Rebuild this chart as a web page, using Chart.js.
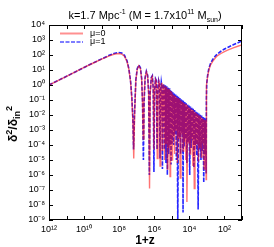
<!DOCTYPE html>
<html>
<head>
<meta charset="utf-8">
<script src="https://cdn.jsdelivr.net/npm/chart.js@4"></script>
<style>
  html, body { margin: 0; padding: 0; background: #fff; }
  #wrap { position: relative; width: 274px; height: 247px; font-family: "Liberation Sans", Arial, sans-serif; color: #000; }
  #chart { position: absolute; left: 0; top: 0; }
  .lbl { position: absolute; white-space: nowrap; line-height: 1; }
  .lbl sup, .lbl sub { font-size: 7px; line-height: 0; }
  #title { left: 145px; top: 15px; font-size: 11px; transform: translate(-50%, -50%); }
  #xlab { left: 145px; top: 240px; font-size: 12px; font-weight: bold; transform: translate(-50%, -50%); }
  #ylab { left: 13px; top: 124px; font-size: 12px; font-weight: bold; transform: translate(-50%, -50%) rotate(-90deg); }
  #ylab sup, #ylab sub { font-size: 9px; }
</style>
</head>
<body>
<div id="wrap">
  <canvas id="chart" width="274" height="247"></canvas>
  <div class="lbl" id="title">k=1.7 Mpc<sup>-1</sup> (M = 1.7x10<sup>11</sup> M<sub>sun</sub>)</div>
  <div class="lbl" id="ylab">&delta;<sup>2</sup>/&delta;<sub>in</sub><sup>2</sup></div>
  <div class="lbl" id="xlab">1+z</div>
</div>
<script>
// valores (log10 de 1+z y log10 de delta^2/delta_in^2)
const seriesNames = ["μ=0", "μ=1"];

const redLogZ = [
  12, 11, 10, 9.5, 9, 8.6, 8.3, 8.05, 7.85, 7.7, 7.55, 7.45, 7.35, 7.28, 7.22, 7.17,
  7.12, 7.05, 6.97, 6.88, 6.79, 6.72, 6.67, 6.63, 6.59, 6.53, 6.45, 6.38, 6.32, 6.27,
  6.23, 6.17, 6.11, 6.06, 6.02, 5.98, 5.93, 5.88, 5.83, 5.79, 5.74, 5.70, 5.67,
  5.63, 5.59, 5.56, 5.53, 5.50, 5.47, 5.44, 5.41, 5.385, 5.36, 5.33, 5.305, 5.28, 5.25,
  5.225, 5.20, 5.17, 5.15, 5.125, 5.10, 5.08, 5.06, 5.04, 5.02, 5.00, 4.98,
  4.96, 4.92, 4.88, 4.84, 4.80, 4.76, 4.72, 4.68, 4.64, 4.60, 4.56, 4.52, 4.48, 4.44,
  4.40, 4.36, 4.32, 4.28, 4.24, 4.20, 4.16, 4.14, 4.08, 4.04, 4.00, 3.96, 3.92, 3.88,
  3.84, 3.80, 3.76, 3.72, 3.68, 3.64, 3.60, 3.56, 3.52, 3.48, 3.44, 3.40, 3.36, 3.32,
  3.28, 3.24, 3.20, 3.16, 3.12, 3.08, 3.06, 3.045,
  3.035, 3.03, 3.01, 2.96, 2.89, 2.80, 2.67, 2.50, 2.39, 2.20, 2.00, 1.82, 1.50, 1.20, 1.00
];
const redLogD = [
  0, 0.58, 1.17, 1.45, 1.72, 1.93, 2.05, 2.1, 2.06, 1.92, 1.55, 1.05, 0.2, -0.9, -2.4, -4.9,
  -2.0, 0.3, 1.05, 1.28, 1.1, 0.4, -1.2, -3.6, -1.2, 0.45, 0.88, 0.62, -0.6, -6.9,
  -0.6, 0.45, 0.58, -0.3, -4.3, -0.4, 0.38, 0.25, -4.9, -0.4, 0.26, 0.05, -5.4,
  -0.5, 0.15, -0.2, -4.4, -0.5, 0.03, -0.25, -5.0, -0.6, -0.08, -3.9, -0.3, -0.15, -5.6,
  -0.45, -0.25, -4.2, -0.32, -0.33, -6.1, -0.4, -0.4, -3.8, -0.45, -0.46, -5.0,
  -0.58, -3.4, -0.66, -4.6, -0.74, -3.0, -0.81, -5.2, -0.89, -3.6, -0.96, -6.2, -1.04, -3.3,
  -1.12, -4.4, -1.19, -3.8, -1.27, -5.0, -1.34, -7.8, -1.42, -3.9, -1.50, -4.6, -1.57, -3.6,
  -1.65, -5.4, -1.72, -6.9, -1.80, -4.3, -1.88, -3.9, -1.95, -5.1, -2.03, -4.2, -2.10, -4.8,
  -2.18, -3.9, -2.26, -5.6, -2.33, -4.4, -2.38, -6.3,
  -3.0, -1.0, 0.0, 0.55, 1.0, 1.32, 1.58, 1.83, 1.96, 2.1, 2.22, 2.32, 2.48, 2.6, 2.68
];

const blueLogZ = [
  12, 11, 10, 9.5, 9, 8.6, 8.3, 8.05, 7.85, 7.7, 7.55, 7.45, 7.35, 7.28, 7.22, 7.18,
  7.13, 7.05, 6.97, 6.88, 6.79, 6.72, 6.67, 6.62, 6.58, 6.52, 6.45, 6.38, 6.32, 6.28,
  6.24, 6.17, 6.11, 6.06, 6.02, 5.98, 5.93, 5.88, 5.84, 5.80, 5.75, 5.71, 5.675,
  5.64, 5.60, 5.565, 5.535, 5.505, 5.475, 5.445, 5.415, 5.39, 5.365, 5.335, 5.31, 5.285, 5.255,
  5.23, 5.205, 5.175, 5.155, 5.13, 5.105, 5.085, 5.065, 5.045, 5.025, 5.005, 4.985,
  4.94, 4.90, 4.86, 4.82, 4.78, 4.74, 4.70, 4.66, 4.62, 4.58, 4.54, 4.50, 4.46, 4.42,
  4.38, 4.36, 4.34, 4.30, 4.26, 4.22, 4.18, 4.14, 4.10, 4.06, 4.02, 3.98, 3.94, 3.90,
  3.86, 3.82, 3.78, 3.74, 3.70, 3.66, 3.62, 3.58, 3.54, 3.50, 3.46, 3.42, 3.38, 3.34,
  3.30, 3.26, 3.22, 3.18, 3.14, 3.10, 3.065, 3.045,
  3.035, 3.03, 3.01, 2.96, 2.89, 2.80, 2.67, 2.50, 2.39, 2.20, 2.00, 1.82, 1.50, 1.20, 1.00
];
const blueLogD = [
  0, 0.58, 1.17, 1.46, 1.74, 1.96, 2.1, 2.17, 2.13, 1.98, 1.6, 1.1, 0.25, -0.8, -2.2, -4.3,
  -2.0, 0.35, 1.1, 1.33, 1.15, 0.45, -1.1, -5.0, -1.2, 0.5, 0.92, 0.66, -0.5, -6.0,
  -0.6, 0.5, 0.62, -0.2, -5.8, -0.35, 0.42, 0.3, -4.3, -0.4, 0.3, 0.1, -4.9,
  -0.45, 0.2, -0.1, -5.6, -0.45, 0.08, -0.15, -4.3, -0.5, -0.02, -5.2, -0.25, -0.08, -6.0,
  -0.4, -0.18, -4.6, -0.28, -0.27, -4.0, -0.35, -0.33, -5.3, -0.4, -0.38, -3.9,
  -0.48, -4.0, -0.56, -3.3, -0.63, -5.0, -0.71, -9.2, -0.79, -3.5, -0.86, -4.6, -0.94, -3.2,
  -1.02, -8.5, -1.07, -4.1, -1.13, -3.6, -1.21, -5.2, -1.28, -3.8, -1.36, -6.0, -1.44, -4.2,
  -1.51, -3.7, -1.59, -5.5, -1.66, -4.0, -1.74, -4.7, -1.81, -8.3, -1.89, -4.3, -1.96, -5.0,
  -2.04, -4.4, -2.12, -6.5, -2.19, -4.6, -2.25, -5.9,
  -3.0, -0.9, 0.1, 0.65, 1.1, 1.42, 1.7, 1.96, 2.08, 2.25, 2.4, 2.5, 2.68, 2.83, 2.95
];

// marcas de los ejes
const xTickVals = [1e1, 1e2, 1e3, 1e4, 1e5, 1e6, 1e7, 1e8, 1e9, 1e10, 1e11, 1e12];
const xTickLabels = ["", "10²", "", "10⁴", "", "10⁶", "", "10⁸", "", "10¹⁰", "", "10¹²"];
const yTickVals = [1e-9, 1e-8, 1e-7, 1e-6, 1e-5, 1e-4, 1e-3, 1e-2, 1e-1, 1e0, 1e1, 1e2, 1e3, 1e4];
const yTickLabels = ["10⁻⁹", "10⁻⁸", "10⁻⁷", "10⁻⁶", "10⁻⁵", "10⁻⁴", "10⁻³", "10⁻²", "10⁻¹", "10⁰", "10¹", "10²", "10³", "10⁴"];

function toPoints(lz, ld) {
  return lz.map((v, i) => ({ x: Math.pow(10, v), y: Math.pow(10, ld[i]) }));
}

// marco con marcas hacia adentro (estilo gnuplot)
const frameTicks = {
  id: "frameTicks",
  afterDatasetsDraw(chart) {
    const { ctx, chartArea: a, scales } = chart;
    ctx.save();
    ctx.strokeStyle = "#000";
    ctx.lineWidth = 1;
    ctx.strokeRect(a.left + 0.5, a.top + 0.5, a.width - 1, a.height - 1);
    ctx.beginPath();
    scales.x.ticks.forEach(t => {
      const px = Math.round(scales.x.getPixelForValue(t.value)) + 0.5;
      ctx.moveTo(px, a.bottom); ctx.lineTo(px, a.bottom - 4);
      ctx.moveTo(px, a.top); ctx.lineTo(px, a.top + 4);
    });
    scales.y.ticks.forEach(t => {
      const py = Math.round(scales.y.getPixelForValue(t.value)) + 0.5;
      ctx.moveTo(a.left, py); ctx.lineTo(a.left + 4, py);
      ctx.moveTo(a.right, py); ctx.lineTo(a.right - 4, py);
    });
    ctx.stroke();
    ctx.restore();
  }
};

// leyenda dentro del área, arriba a la izquierda
const insideLegend = {
  id: "insideLegend",
  afterDatasetsDraw(chart) {
    const { ctx, chartArea: a } = chart;
    chart.data.datasets.forEach((ds, i) => {
      const y = a.top + 8.5 + i * 8.5;
      ctx.save();
      ctx.strokeStyle = ds.legendColor;
      ctx.lineWidth = 2;
      ctx.setLineDash(ds.borderDash || []);
      ctx.beginPath();
      ctx.moveTo(a.left + 11, y);
      ctx.lineTo(a.left + 34, y);
      ctx.stroke();
      ctx.setLineDash([]);
      ctx.fillStyle = "#000";
      ctx.font = '9px "Liberation Sans"';
      ctx.textBaseline = "middle";
      ctx.fillText(ds.label, a.left + 41, y);
      ctx.restore();
    });
  }
};

new Chart(document.getElementById("chart"), {
  type: "line",
  data: {
    datasets: [
      {
        label: seriesNames[0],
        data: toPoints(redLogZ, redLogD),
        borderColor: "rgba(255,0,0,0.55)",
        legendColor: "rgba(255,70,70,0.6)",
        borderWidth: 1.4,
        pointRadius: 0,
        tension: 0
      },
      {
        label: seriesNames[1],
        data: toPoints(blueLogZ, blueLogD),
        borderColor: "rgba(0,0,255,0.85)",
        legendColor: "rgba(70,70,255,0.7)",
        borderWidth: 1.6,
        borderDash: [4, 1.5],
        pointRadius: 0,
        tension: 0
      }
    ]
  },
  options: {
    responsive: false,
    animation: false,
    devicePixelRatio: 1,
    layout: { padding: { top: 25, right: 32, left: 0, bottom: 0 } },
    plugins: {
      title: { display: false },
      tooltip: { enabled: false },
      legend: { display: false }
    },
    scales: {
      x: {
        type: "logarithmic",
        reverse: true,
        min: 1e1,
        max: 1e12,
        grid: { display: false, drawTicks: false },
        border: { display: false },
        afterBuildTicks: axis => { axis.ticks = xTickVals.map(v => ({ value: v })); },
        afterFit: axis => { axis.height = 27; },
        ticks: {
          autoSkip: false,
          maxRotation: 0,
          padding: 4,
          color: "#000",
          font: { family: "Liberation Sans", size: 9 },
          callback: (v, i) => xTickLabels[i]
        }
      },
      y: {
        type: "logarithmic",
        min: 1e-9,
        max: 1e4,
        grid: { display: false, drawTicks: false },
        border: { display: false },
        afterBuildTicks: axis => { axis.ticks = yTickVals.map(v => ({ value: v })); },
        afterFit: axis => { axis.width = 49; },
        ticks: {
          autoSkip: false,
          padding: 4,
          color: "#000",
          font: { family: "Liberation Sans", size: 9 },
          callback: (v, i) => yTickLabels[i]
        }
      }
    }
  },
  plugins: [frameTicks, insideLegend]
});
</script>
</body>
</html>
